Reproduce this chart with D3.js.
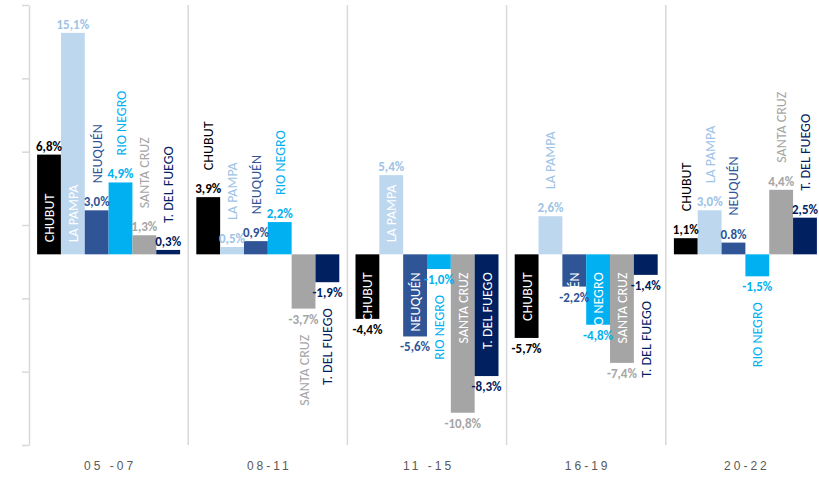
<!DOCTYPE html>
<html>
<head>
<meta charset="utf-8">
<script src="https://cdn.jsdelivr.net/npm/d3@7"></script>
<style>
  html, body { margin: 0; padding: 0; background: #ffffff; }
  svg { display: block; }
  .val { font-family: Carlito, "Liberation Sans Narrow", "Arial Narrow", sans-serif; font-weight: bold; font-size: 13px; }
  .name { font-family: Carlito, "Liberation Sans Narrow", "Arial Narrow", sans-serif; font-size: 14px; }
  .period { font-family: "Liberation Sans", Arial, sans-serif; font-size: 12px; fill: #595959; letter-spacing: 3px; }
</style>
</head>
<body>
<svg id="chart" width="819" height="478"></svg>
<script>
// Periods along the category axis
const periods = ["05 -07", "08-11", "11 -15", "16-19", "20-22"];
// Provinces (one bar each per period)
const provinces = ["CHUBUT", "LA PAMPA", "NEUQUÉN", "RIO NEGRO", "SANTA CRUZ", "T. DEL FUEGO"];

// Annual variation (%) per province, one value per period
const chubut     = [6.8, 3.9, -4.4, -5.7, 1.1];
const laPampa    = [15.1, 0.5, 5.4, 2.6, 3.0];
const neuquen    = [3.0, 0.9, -5.6, -2.2, 0.8];
const rioNegro   = [4.9, 2.2, -1.0, -4.8, -1.5];
const santaCruz  = [1.3, -3.7, -10.8, -7.4, 4.4];
const delFuego   = [0.3, -1.9, -8.3, -1.4, 2.5];
const seriesValues = [chubut, laPampa, neuquen, rioNegro, santaCruz, delFuego];

// Value axis ticks (no labels shown)
const yTicks = [-13, -8, -3, 2, 7, 12, 17];

// Where each province name sits in each period: inside the bar, or beyond the value label
const namePlacement = [
  ["in", "in", "out", "out", "out", "out"],
  ["out", "out", "out", "out", "out", "out"],
  ["in", "in", "in", "out", "in", "in"],
  ["in", "out", "in", "in", "in", "out"],
  ["out", "out", "out", "out", "out", "out"]
];

const barColors  = ["#000000", "#BDD7EE", "#2F5597", "#00B0F0", "#A5A5A5", "#002060"];
const textColors = ["#000000", "#9DC3E6", "#2F5597", "#00B0F0", "#A5A5A5", "#002060"];

const fmt = v => d3.format(".1f")(v).replace("\u2212", "-").replace(".", ",") + "%";
const labelText = (p, s, v) => (p === 4 && s === 2) ? "0.8%" : fmt(v);

const svg = d3.select("#chart");

const x0 = d3.scaleBand().domain(periods).range([29, 825]).paddingInner(0).paddingOuter(0);
const x1 = d3.scaleBand().domain(provinces).range([0, x0.bandwidth()]).paddingInner(0).paddingOuter(0.34);
const y = d3.scaleLinear().domain([-13, 17]).range([445, 5]);

// Category separators
svg.append("g")
  .selectAll("line")
  .data(periods.slice(1))
  .join("line")
  .attr("x1", d => x0(d)).attr("x2", d => x0(d))
  .attr("y1", y(17)).attr("y2", y(-13))
  .attr("stroke", "#D9D9D9").attr("stroke-width", 1.5);

// Value axis (ticks only)
const yAxis = svg.append("g")
  .attr("transform", `translate(${x0(periods[0])},0)`)
  .call(d3.axisLeft(y).tickValues(yTicks).tickFormat("").tickSize(7).tickSizeOuter(0));
yAxis.select(".domain").attr("stroke", "#D9D9D9").attr("stroke-width", 1.5);
yAxis.selectAll(".tick line").attr("stroke", "#D9D9D9").attr("stroke-width", 1.5);

const rows = [];
periods.forEach((p, pi) => {
  provinces.forEach((s, si) => {
    rows.push({ p, pi, s, si, v: seriesValues[si][pi] });
  });
});

const cx = d => x0(d.p) + x1(d.s) + x1.bandwidth() / 2;

// Bars
svg.append("g")
  .selectAll("rect")
  .data(rows)
  .join("rect")
  .attr("x", d => x0(d.p) + x1(d.s))
  .attr("width", x1.bandwidth())
  .attr("y", d => y(Math.max(0, d.v)))
  .attr("height", d => Math.abs(y(d.v) - y(0)))
  .attr("fill", d => barColors[d.si]);

// Province names, rotated
svg.append("g")
  .selectAll("text")
  .data(rows)
  .join("text")
  .attr("class", "name")
  .attr("transform", d => {
    const mode = namePlacement[d.pi][d.si];
    let yy;
    if (mode === "in") yy = d.v >= 0 ? y(0) - 12 : y(0) + 18;
    else yy = d.v >= 0 ? y(d.v) - 27 : y(d.v) + 26;
    return `translate(${cx(d) + 5},${yy}) rotate(-90)`;
  })
  .attr("text-anchor", d => d.v >= 0 ? "start" : "end")
  .attr("fill", d => namePlacement[d.pi][d.si] === "in" ? "#ffffff" : textColors[d.si])
  .text(d => d.s);

// Value labels, on top of everything else
svg.append("g")
  .selectAll("text")
  .data(rows)
  .join("text")
  .attr("class", "val")
  .attr("x", cx)
  .attr("y", d => d.v >= 0 ? y(d.v) - 4 : y(d.v) + 15)
  .attr("text-anchor", "middle")
  .attr("fill", d => textColors[d.si])
  .text(d => labelText(d.pi, d.si, d.v));

// Period labels
svg.append("g")
  .selectAll("text")
  .data(periods)
  .join("text")
  .attr("class", "period")
  .attr("x", d => x0(d) + x0.bandwidth() / 2 + 1.5)
  .attr("y", 470)
  .attr("text-anchor", "middle")
  .text(d => d);
</script>
</body>
</html>
